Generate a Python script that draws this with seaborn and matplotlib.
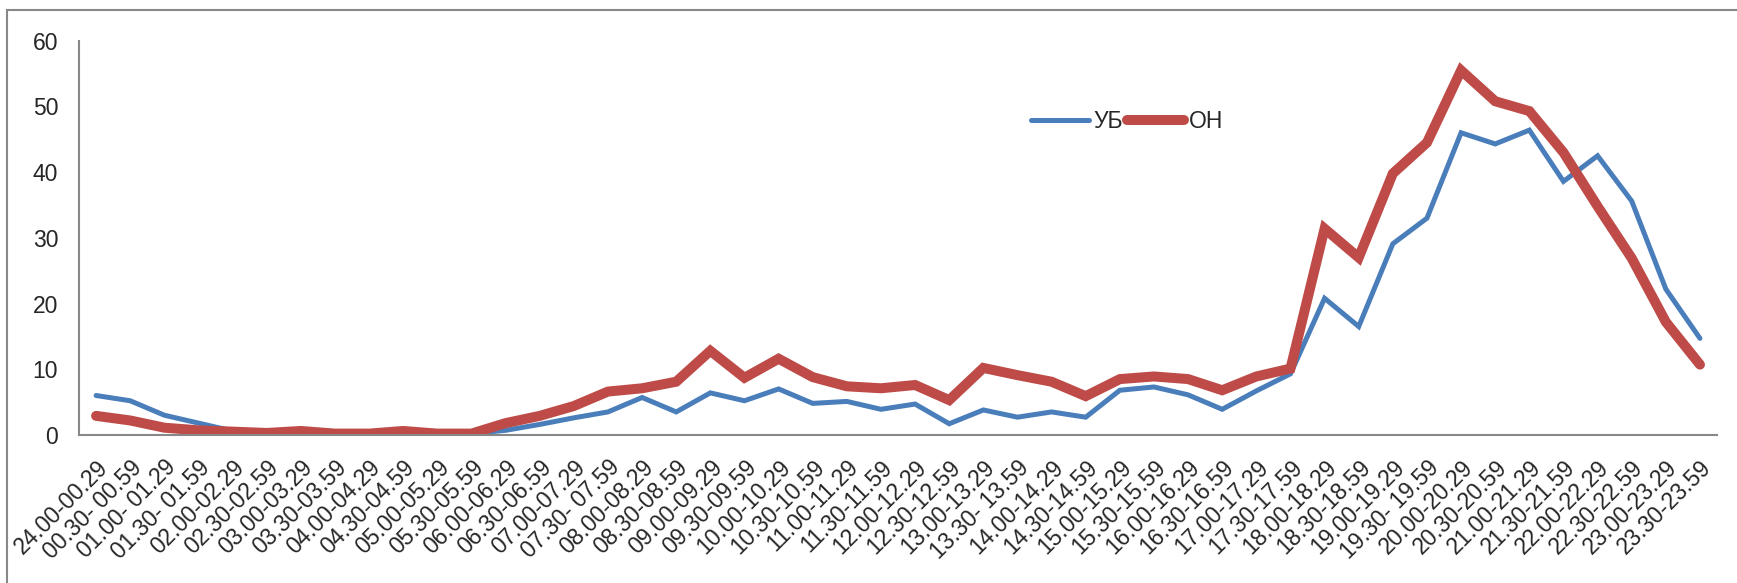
import numpy as np
import pandas as pd
import seaborn as sns
import matplotlib.pyplot as plt
from matplotlib.patches import Rectangle
from matplotlib.transforms import ScaledTranslation

# Time slots (48 half-hour intervals)
slots = [
    "24.00-00.29", "00.30- 00.59", "01.00- 01.29", "01.30- 01.59",
    "02.00-02.29", "02.30-02.59", "03.00-03.29", "03.30-03.59",
    "04.00-04.29", "04.30-04.59", "05.00-05.29", "05.30-05.59",
    "06.00-06.29", "06.30-06.59", "07.00-07.29", "07.30- 07.59",
    "08.00-08.29", "08.30-08.59", "09.00-09.29", "09.30-09.59",
    "10.00-10.29", "10.30-10.59", "11.00-11.29", "11.30-11.59",
    "12.00-12.29", "12.30-12.59", "13.00-13.29", "13.30- 13.59",
    "14.00-14.29", "14.30-14.59", "15.00-15.29", "15.30-15.59",
    "16.00-16.29", "16.30-16.59", "17.00-17.29", "17.30-17.59",
    "18.00-18.29", "18.30-18.59", "19.00-19.29", "19.30- 19.59",
    "20.00-20.29", "20.30-20.59", "21.00-21.29", "21.30-21.59",
    "22.00-22.29", "22.30-22.59", "23.00-23.29", "23.30-23.59",
]

ub = [6.0, 5.2, 3.0, 1.8, 0.6, 0.3, 0.5, 0.2, 0.2, 0.5, 0.2, 0.2,
      0.7, 1.6, 2.6, 3.5, 5.7, 3.5, 6.4, 5.2, 7.0, 4.8, 5.1, 3.9,
      4.7, 1.7, 3.8, 2.7, 3.5, 2.7, 6.8, 7.3, 6.1, 3.9, 6.7, 9.3,
      20.8, 16.5, 29.1, 33.0, 46.0, 44.3, 46.4, 38.6, 42.5, 35.6, 22.2, 14.7]

oh = [2.9, 2.2, 1.1, 0.7, 0.5, 0.3, 0.6, 0.2, 0.2, 0.6, 0.2, 0.2,
      1.8, 2.9, 4.4, 6.6, 7.1, 8.1, 12.8, 8.7, 11.6, 8.8, 7.4, 7.1,
      7.6, 5.3, 10.2, 9.1, 8.1, 5.9, 8.5, 8.9, 8.5, 6.8, 8.9, 10.1,
      31.4, 27.0, 39.8, 44.5, 55.5, 50.8, 49.3, 43.0, 34.8, 26.9, 17.2, 10.7]

df = pd.DataFrame({"idx": np.arange(len(slots)), "УБ": ub, "ОН": oh})
long = df.melt(id_vars="idx", var_name="series", value_name="value")

sns.set_style("white")
plt.rcParams["font.family"] = ["Liberation Sans", "DejaVu Sans"]

fig = plt.figure(figsize=(17.37, 5.83), dpi=100)
ax = fig.add_axes([0.0455, 0.254, 0.943, 0.676])

sns.lineplot(data=long, x="idx", y="value", hue="series", size="series",
             palette={"УБ": "#4A7EBB", "ОН": "#BE4B48"},
             sizes={"УБ": 3.6, "ОН": 7.2}, sort=False, ax=ax,
             solid_capstyle="round", solid_joinstyle="miter")

ax.set_xlim(-0.5, len(slots) - 0.5)
ax.set_ylim(0, 60)
ax.set_yticks(range(0, 61, 10))
ax.set_xticks(np.arange(len(slots)))
ax.set_xticklabels(slots, rotation=45, ha="right", va="top",
                   rotation_mode="anchor", fontsize=16.5)
# shift labels right a bit, the way the original sits them
for lab in ax.get_xticklabels():
    lab.set_transform(lab.get_transform() + ScaledTranslation(0.12, 0, fig.dpi_scale_trans))
ax.set_xticks(np.arange(len(slots) + 1) - 0.5, minor=True)
ax.tick_params(axis="x", which="major", length=0, pad=15)
ax.tick_params(axis="x", which="minor", length=7, color="#888888", width=1.5)
ax.tick_params(axis="y", length=7, color="#888888", width=1.5, labelsize=16.5, pad=8)
ax.set_xlabel("")
ax.set_ylabel("")

for side in ["top", "right"]:
    ax.spines[side].set_visible(False)
for side in ["left", "bottom"]:
    ax.spines[side].set_color("#888888")
    ax.spines[side].set_linewidth(1.5)

handles, labels = ax.get_legend_handles_labels()
ax.legend(handles, labels, loc="center", bbox_to_anchor=(0.640, 0.795), ncol=2,
          frameon=False, fontsize=16.5, handlelength=2.5, handletextpad=0.2,
          columnspacing=0.2)

# chart-area border: only its top and left edges fall inside the picture
fig.patches.append(Rectangle((0.004, -0.02), 1.02, 1.003, transform=fig.transFigure,
                             fill=False, edgecolor="#888888", linewidth=1.5))

fig.savefig("out.png", dpi=100)
